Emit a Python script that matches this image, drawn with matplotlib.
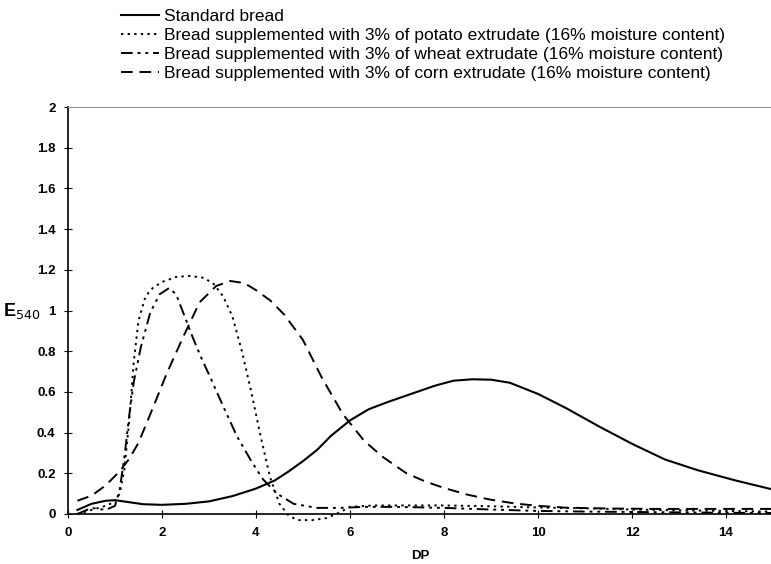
import matplotlib
matplotlib.use("Agg")
import matplotlib.pyplot as plt

# values (DP vs E540)
std_x = [0.2, 0.5, 0.8, 1.0, 1.3, 1.6, 2.0, 2.5, 3.0, 3.5, 4.0, 4.4, 4.7, 5.0, 5.3, 5.6, 6.0, 6.4, 6.8,
         7.3, 7.8, 8.2, 8.6, 9.0, 9.4, 10.0, 10.6, 11.3, 12.0, 12.7, 13.4, 14.2, 15.0]
std_y = [0.02, 0.05, 0.065, 0.068, 0.058, 0.048, 0.045, 0.05, 0.062, 0.088, 0.125, 0.165, 0.21, 0.26,
         0.315, 0.385, 0.46, 0.515, 0.55, 0.59, 0.63, 0.655, 0.662, 0.66, 0.645, 0.59, 0.52, 0.43, 0.345,
         0.268, 0.215, 0.165, 0.12]

potato_x = [0.2, 0.5, 0.8, 1.0, 1.1, 1.2, 1.3, 1.4, 1.5, 1.65, 1.8, 2.0, 2.3, 2.6, 2.9, 3.1, 3.3, 3.5,
            3.7, 3.9, 4.1, 4.3, 4.5, 4.7, 4.9, 5.2, 5.5, 5.8, 6.0, 6.5, 7.0, 8.0, 9.0, 10.0, 11.0, 12.0,
            13.0, 14.0, 15.0]
potato_y = [0.0, 0.02, 0.04, 0.06, 0.1, 0.22, 0.45, 0.75, 0.95, 1.07, 1.11, 1.14, 1.165, 1.17, 1.16,
            1.13, 1.07, 0.97, 0.8, 0.6, 0.38, 0.18, 0.05, -0.01, -0.03, -0.03, -0.02, 0.01, 0.035, 0.042,
            0.042, 0.042, 0.038, 0.032, 0.028, 0.022, 0.018, 0.015, 0.012]

wheat_x = [0.2, 0.5, 0.8, 1.0, 1.1, 1.2, 1.3, 1.4, 1.55, 1.75, 1.95, 2.15, 2.3, 2.45, 2.65, 2.85, 3.05,
           3.3, 3.6, 3.9, 4.15, 4.45, 4.8, 5.3, 5.8, 6.3, 7.0, 8.0, 9.0, 10.0, 11.0, 12.0, 13.0, 14.0, 15.0]
wheat_y = [0.0, 0.03, 0.02, 0.04, 0.12, 0.28, 0.48, 0.65, 0.82, 0.99, 1.08, 1.11, 1.08, 0.99, 0.87,
           0.76, 0.66, 0.53, 0.38, 0.26, 0.17, 0.1, 0.05, 0.03, 0.03, 0.035, 0.035, 0.03, 0.022, 0.015,
           0.012, 0.01, 0.008, 0.006, 0.005]

corn_x = [0.2, 0.5, 0.8, 1.1, 1.3, 1.5, 1.75, 2.1, 2.45, 2.8, 3.15, 3.45, 3.75, 4.0, 4.3, 4.6, 5.0, 5.4,
          5.85, 6.3, 6.7, 7.2, 7.6, 8.0, 8.5, 9.0, 9.5, 10.0, 10.6, 11.5, 12.5, 13.5, 15.0]
corn_y = [0.065, 0.09, 0.14, 0.21, 0.27, 0.35, 0.49, 0.69, 0.87, 1.04, 1.12, 1.145, 1.135, 1.1, 1.05,
          0.98, 0.855, 0.67, 0.49, 0.36, 0.28, 0.2, 0.16, 0.128, 0.095, 0.07, 0.052, 0.04, 0.031, 0.027,
          0.025, 0.025, 0.025]

labels = [
    "Standard bread",
    "Bread supplemented with 3% of potato extrudate (16% moisture content)",
    "Bread supplemented with 3% of wheat extrudate (16% moisture content)",
    "Bread supplemented with 3% of corn extrudate (16% moisture content)",
]

plt.rcParams["font.family"] = ["Liberation Sans", "DejaVu Sans"]

fig = plt.figure(figsize=(7.71, 5.64), dpi=100)
ax = fig.add_axes([68 / 771, 50 / 564, 705 / 771, 407 / 564])

l1, = ax.plot(std_x, std_y, color="black", lw=1.5, ls="-", clip_on=False)
l2, = ax.plot(potato_x, potato_y, color="black", lw=1.4, ls=(0, (1.2, 2.2)), clip_on=False)
l3, = ax.plot(wheat_x, wheat_y, color="black", lw=1.4, ls=(0, (6, 2.5, 1.5, 2.5, 1.5, 2.5)), clip_on=False)
l4, = ax.plot(corn_x, corn_y, color="black", lw=1.4, ls=(0, (6, 3.5)), clip_on=False)

ax.set_xlim(0, 15)
ax.set_ylim(0, 2)
ax.set_xticks(range(0, 15, 2))
ax.set_yticks([0, 0.2, 0.4, 0.6, 0.8, 1, 1.2, 1.4, 1.6, 1.8, 2])
ax.set_yticklabels(["0", "0.2", "0.4", "0.6", "0.8", "1", "1.2", "1.4", "1.6", "1.8", "2"])
ax.tick_params(direction="inout", length=6, width=0.8, labelsize=9.5, pad=6)
for lab in ax.get_xticklabels() + ax.get_yticklabels():
    lab.set_fontweight("bold")

ax.spines["right"].set_visible(False)
ax.spines["top"].set_color("#999999")
ax.spines["top"].set_linewidth(0.8)
ax.spines["left"].set_linewidth(1.2)
ax.spines["bottom"].set_linewidth(1.2)

ax.set_xlabel("DP", fontsize=9.5, fontweight="bold", labelpad=8)
ax.set_ylabel("E$_{540}$", fontsize=13, fontweight="bold", rotation=0)
ax.yaxis.set_label_coords(-0.065, 0.475)

fig.legend([l1, l2, l3, l4], labels, loc="upper left", bbox_to_anchor=(112 / 771, 1.0),
           frameon=False, fontsize=12.5, handlelength=2.2, handletextpad=0.3, labelspacing=0.22,
           borderaxespad=0.1)

fig.savefig("out.png", dpi=100)
